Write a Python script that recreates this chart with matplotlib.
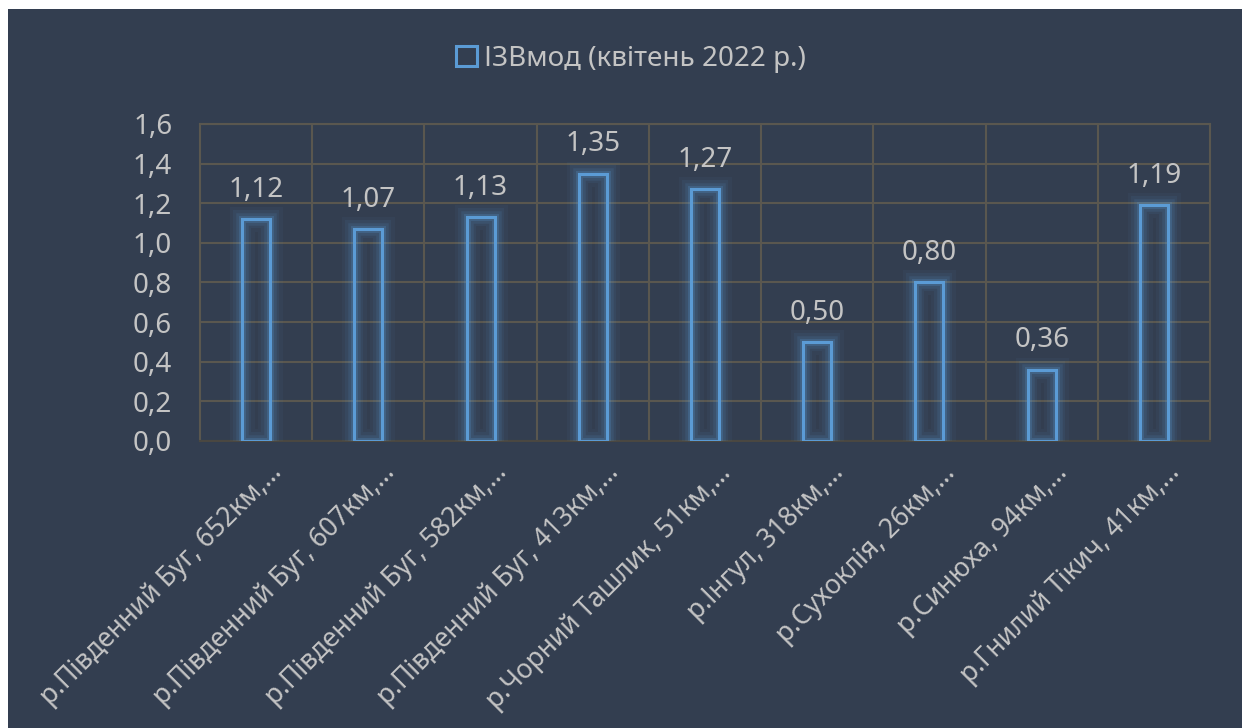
import numpy as np
import matplotlib
matplotlib.use("Agg")
import matplotlib.pyplot as plt
import matplotlib.patheffects as pe
from matplotlib.patches import Rectangle
from matplotlib.transforms import ScaledTranslation
from matplotlib.ticker import FuncFormatter, FixedLocator

plt.rcParams['font.family'] = ['Noto Sans', 'DejaVu Sans']

# Дані: ІЗВмод по створах (квітень 2022 р.)
stations = ['р.Південний Буг, 652км,…', 'р.Південний Буг, 607км,…',
            'р.Південний Буг, 582км,…', 'р.Південний Буг, 413км,…',
            'р.Чорний Ташлик, 51км,…', 'р.Інгул, 318км,…',
            'р.Сухоклія, 26км,…', 'р.Синюха, 94км,…',
            'р.Гнилий Тікич, 41км,…']
izv = [1.12, 1.07, 1.13, 1.35, 1.27, 0.50, 0.80, 0.36, 1.19]
series_name = 'ІЗВмод (квітень 2022 р.)'
y_ticks = [0.0, 0.2, 0.4, 0.6, 0.8, 1.0, 1.2, 1.4, 1.6]

bg = '#333e50'
grid_c = '#5a574f'
txt_c = '#c4c4c4'
blue = '#5b9bd5'

fig = plt.figure(figsize=(12.42, 7.28), dpi=100, facecolor='white')
# темна підкладка діаграми
fig.patches.append(Rectangle((8 / 1242, 0), 1 - 8 / 1242, 1 - 9 / 728,
                             transform=fig.transFigure, facecolor=bg,
                             edgecolor='none', zorder=-10))

ax = fig.add_axes([200 / 1242, 1 - 441 / 728, 1010 / 1242, 317 / 728])
ax.set_facecolor(bg)

x = np.arange(len(stations))
glow = [pe.Stroke(linewidth=18, foreground=blue, alpha=0.05),
        pe.Stroke(linewidth=13, foreground=blue, alpha=0.08),
        pe.Stroke(linewidth=9, foreground=blue, alpha=0.12),
        pe.Stroke(linewidth=5, foreground=blue, alpha=0.22),
        pe.Normal()]
bars = ax.bar(x, izv, width=0.25, facecolor='none', edgecolor=blue,
              linewidth=2.2, zorder=3, label=series_name)
for b in bars:
    b.set_path_effects(glow)

for xi, v in zip(x, izv):
    ax.annotate(f'{v:.2f}'.replace('.', ','), (xi, v), xytext=(0, 11),
                textcoords='offset points', ha='center', va='bottom',
                fontsize=20, color=txt_c, zorder=4)

ax.set_xlim(-0.5, len(stations) - 0.5)
ax.set_ylim(0, 1.6)
ax.set_yticks(y_ticks)
ax.yaxis.set_major_formatter(FuncFormatter(lambda v, p: f'{v:.1f}'.replace('.', ',')))
ax.tick_params(axis='y', length=0, pad=20, labelsize=20, labelcolor=txt_c)

ax.set_xticks(x)
ax.set_xticklabels(stations, rotation=45, ha='right', va='center',
                   rotation_mode='anchor')
ax.tick_params(axis='x', length=0, pad=20, labelsize=19, labelcolor=txt_c)
shift = ScaledTranslation(22 / 100, 0, fig.dpi_scale_trans)
for lab in ax.get_xticklabels():
    lab.set_transform(lab.get_transform() + shift)

# вертикальні лінії між категоріями
ax.xaxis.set_minor_locator(FixedLocator(x[:-1] + 0.5))
ax.tick_params(axis='x', which='minor', length=0)
ax.grid(axis='y', which='major', color=grid_c, linewidth=1.5, zorder=0)
ax.grid(axis='x', which='minor', color=grid_c, linewidth=1.5, zorder=0)
ax.set_axisbelow(True)
for side in ['left', 'right', 'top']:
    ax.spines[side].set_color(grid_c)
    ax.spines[side].set_linewidth(1.5)
ax.spines['bottom'].set_color('#4a4741')
ax.spines['bottom'].set_linewidth(1.5)

leg = fig.legend(handles=[bars], labels=[series_name], loc='center',
                 bbox_to_anchor=(631 / 1242, 1 - 59 / 728), frameon=False,
                 fontsize=20, labelcolor=txt_c, handlelength=0.75,
                 handleheight=0.75, handletextpad=0.25)
for h in leg.legend_handles:
    h.set_path_effects([])
    h.set_linewidth(2.2)

fig.savefig('out.png', dpi=100, facecolor='white')
